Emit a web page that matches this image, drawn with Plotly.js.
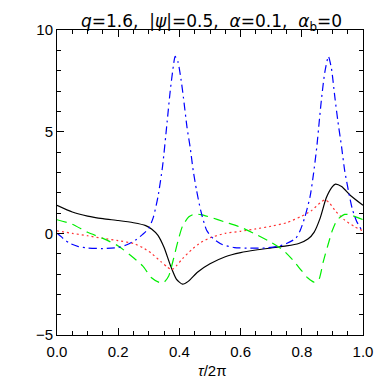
<!DOCTYPE html>
<html><head><meta charset="utf-8">
<script src="https://cdn.plot.ly/plotly-3.0.1.min.js"></script>
<style>html,body{margin:0;padding:0;background:#fff}#c{width:382px;height:382px}</style>
</head><body><div id="c"></div>
<script>
// black solid
const tBlack = [0,0.05,0.1,0.15,0.2,0.25,0.29,0.31,0.33,0.35,0.37,0.39,0.41,0.43,0.46,0.5,0.55,0.6,0.65,0.7,0.75,0.79,0.82,0.84,0.86,0.88,0.9,0.91,0.93,0.96,1.0];
const vBlack = [1.38,1.05,0.85,0.72,0.63,0.52,0.38,0.2,-0.1,-0.7,-1.55,-2.25,-2.5,-2.35,-1.9,-1.5,-1.15,-0.95,-0.82,-0.72,-0.62,-0.5,-0.28,0.05,0.75,1.75,2.3,2.42,2.3,1.85,1.38];
// red dotted
const tRed = [0,0.05,0.1,0.15,0.2,0.25,0.28,0.31,0.34,0.36,0.375,0.39,0.41,0.44,0.47,0.5,0.55,0.6,0.65,0.7,0.75,0.8,0.83,0.86,0.875,0.89,0.91,0.94,0.97,1.0];
const vRed = [0.12,0.0,-0.12,-0.25,-0.36,-0.5,-0.7,-1.0,-1.4,-1.65,-1.8,-1.6,-1.25,-0.8,-0.45,-0.22,0.0,0.1,0.22,0.35,0.52,0.85,1.1,1.5,1.65,1.5,1.1,0.65,0.35,0.12];
// green dashed
const tGreen = [0,0.05,0.1,0.15,0.2,0.25,0.28,0.31,0.335,0.35,0.365,0.38,0.395,0.41,0.43,0.45,0.47,0.5,0.55,0.6,0.65,0.7,0.74,0.77,0.8,0.82,0.84,0.855,0.87,0.885,0.9,0.915,0.94,0.96,1.0];
const vGreen = [0.67,0.45,0.05,-0.25,-0.62,-1.2,-1.6,-2.2,-2.42,-2.4,-2.1,-1.3,-0.4,0.35,0.8,0.95,0.92,0.8,0.55,0.3,-0.05,-0.45,-0.84,-1.3,-1.85,-2.2,-2.4,-2.3,-1.4,-0.6,0.15,0.65,0.93,0.9,0.67];
// blue dash-dot
const tBlue = [0,0.02,0.04,0.07,0.1,0.15,0.2,0.23,0.26,0.28,0.3,0.315,0.33,0.345,0.36,0.37,0.38,0.386,0.395,0.405,0.413,0.425,0.435,0.445,0.456,0.47,0.489,0.51,0.54,0.58,0.63,0.68,0.72,0.75,0.78,0.795,0.81,0.827,0.838,0.849,0.857,0.865,0.875,0.887,0.897,0.908,0.918,0.93,0.94,0.952,0.965,0.979,1.0];
const vBlue = [0.0,-0.25,-0.48,-0.65,-0.72,-0.75,-0.7,-0.55,-0.3,-0.05,0.25,0.8,1.8,3.3,5.5,7.0,8.2,8.7,8.45,7.6,6.7,5.2,4.25,3.1,2.12,1.1,0.15,-0.25,-0.55,-0.7,-0.73,-0.72,-0.65,-0.5,-0.25,0.15,0.8,1.8,2.9,4.25,5.5,6.7,7.9,8.7,8.1,6.7,5.5,4.25,3.1,2.12,1.2,0.6,0.05];

const xTickVals = [0,0.2,0.4,0.6,0.8,1.0];
const xTickText = ['0.0','0.2','0.4','0.6','0.8','1.0'];
const yTickVals = [-5,0,5,10];
const yTickText = ['\u22125','0','5','10'];
const xTitle = '<i>τ</i>/2π';
const mainTitle = '<i>q</i>=1.6,&nbsp;&nbsp;|<i>ψ</i>|=0.5,&nbsp;&nbsp;<i>α</i>=0.1,&nbsp;&nbsp;<i>α</i><sub>b</sub>=0';

const FONT = 'Liberation Sans, DejaVu Sans, sans-serif';
const TFONT = 'DejaVu Sans, sans-serif';
function tr(x,y,color,dash){
  return {x:x,y:y,mode:'lines',type:'scatter',line:{color:color,width:1.2,dash:dash,shape:'spline',smoothing:0.6},hoverinfo:'skip',showlegend:false};
}
const data = [
  tr(tBlack,vBlack,'#000000','solid'),
  tr(tRed,vRed,'#ff3030','2px,3px'),
  tr(tGreen,vGreen,'#00ee00','10px,6px'),
  tr(tBlue,vBlue,'#0000ff','8px,4px,2px,4px')
];
const axisBase = {showgrid:false,zeroline:false,showline:true,linecolor:'#000',linewidth:1,mirror:'ticks',ticks:'inside',ticklen:7,tickcolor:'#000',tickwidth:1,tickfont:{family:FONT,size:15,color:'#000'}};
const layout = {
  width:382,height:382,
  margin:{l:57,r:19,t:30,b:47},
  paper_bgcolor:'#fff',plot_bgcolor:'#fff',
  title:{text:mainTitle,font:{family:TFONT,size:17,color:'#000'},xref:'paper',x:0.505,xanchor:'center',yref:'container',y:0.945,yanchor:'middle'},
  xaxis:Object.assign({},axisBase,{range:[0,1],tickvals:xTickVals,ticktext:xTickText,ticklabelstandoff:3,minor:{dtick:0.05,ticks:'inside',ticklen:4,tickcolor:'#000'}}),
  yaxis:Object.assign({},axisBase,{range:[-5,10],tickvals:yTickVals,ticktext:yTickText,minor:{dtick:1,ticks:'inside',ticklen:4,tickcolor:'#000'}}),
  annotations:[{text:xTitle,xref:'paper',yref:'paper',x:0.505,y:-0.115,xanchor:'center',yanchor:'middle',showarrow:false,font:{family:FONT,size:15,color:'#000'}}]
};
Plotly.newPlot('c',data,layout,{staticPlot:true,displayModeBar:false});
</script></body></html>
